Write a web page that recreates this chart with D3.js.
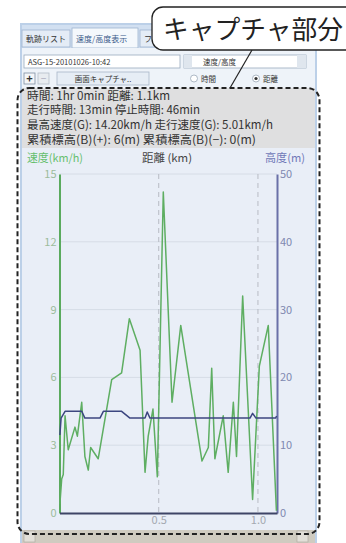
<!DOCTYPE html>
<html lang="ja">
<head>
<meta charset="utf-8">
<title>キャプチャ部分</title>
<style>
  html, body { margin: 0; padding: 0; background: #fff; }
  svg { display: block; }
  text { font-family: "Noto Sans CJK JP", "Noto Sans", sans-serif; }
</style>
</head>
<body>
<svg width="346" height="543"></svg>
<script src="https://d3js.org/d3.v7.min.js"></script>
<script>

// speed trace (distance km -> km/h)
var distKm   = [0.002, 0.011, 0.019, 0.028, 0.044, 0.078, 0.090, 0.112, 0.128, 0.145, 0.157, 0.195,
                0.263, 0.313, 0.352, 0.406, 0.431, 0.447, 0.471, 0.493, 0.523, 0.567, 0.611, 0.718,
                0.750, 0.767, 0.783, 0.825, 0.850, 0.876, 0.892, 0.923, 0.973, 1.007, 1.052, 1.093];
var speedKmh = [0.4, 1.5, 1.7, 4.3, 2.8, 3.8, 3.4, 4.9, 2.5, 1.9, 2.9, 2.4,
                5.9, 6.2, 8.6, 7.2, 1.8, 3.4, 4.6, 1.6, 14.2, 4.9, 8.3, 2.3,
                2.9, 6.4, 2.4, 4.3, 1.8, 4.9, 2.5, 9.6, 0.6, 6.5, 8.3, 0.1];

// altitude trace (distance km -> m)
var altDist = [0.002, 0.008, 0.028, 0.112, 0.128, 0.204, 0.221, 0.313, 0.355, 0.431, 0.442, 0.456,
               0.960, 0.973, 0.990, 1.089, 1.094];
var altM    = [11.5, 14.0, 15.0, 15.0, 14.0, 14.0, 15.0, 15.0, 14.0, 14.0, 14.9, 14.0,
               14.0, 14.7, 14.0, 14.0, 14.3];

var speedTicks = [0, 3, 6, 9, 12, 15];
var altTicks   = [0, 10, 20, 30, 40, 50];
var distTicks  = [0.5, 1.0];

var infoLines = [
  "時間: 1hr 0min  距離: 1.1km",
  "走行時間: 13min  停止時間: 46min",
  "最高速度(G): 14.20km/h  走行速度(G): 5.01km/h",
  "累積標高(B)(+): 6(m)  累積標高(B)(−): 0(m)"
];
var infoWidths = [143, 173, 246, 229];

var svg = d3.select("svg");

// ---- window chrome ----
svg.append("rect").attr("x", 20).attr("y", 23).attr("width", 297).attr("height", 520)
    .attr("fill", "#bcd0e8");
svg.append("rect").attr("x", 22).attr("y", 25).attr("width", 293).attr("height", 23)
    .attr("fill", "#d2e0f1");

// tabs (third tab is hidden behind the callout, only its first glyph shows)
var tabs = [["軌跡リスト", 22, 48, false], ["速度/高度表示", 72, 66, true], ["フ", 140, 40, false]];
tabs.forEach(function(t) {
  svg.append("rect").attr("x", t[1]).attr("y", t[3] ? 28 : 30).attr("width", t[2])
      .attr("height", t[3] ? 20 : 17)
      .attr("fill", t[3] ? "#f4f8fc" : "#e4ecf6").attr("stroke", "#9fb5d0").attr("stroke-width", 0.8);
  svg.append("text").attr("x", t[1] + 4).attr("y", 41.5).attr("font-size", 8)
      .attr("fill", t[3] ? "#3a5a8a" : "#333").text(t[0]);
});

// panel body
svg.append("rect").attr("x", 22).attr("y", 48).attr("width", 293).attr("height", 40)
    .attr("fill", "#eef3f9");
// file box
svg.append("rect").attr("x", 24).attr("y", 55).attr("width", 156).attr("height", 13)
    .attr("fill", "#fff").attr("stroke", "#9aaabf").attr("stroke-width", 0.8);
svg.append("text").attr("x", 28).attr("y", 64.5).attr("font-size", 7.5).attr("fill", "#333")
    .text("ASG-15-20101026-10:42");
// dropdown
svg.append("rect").attr("x", 184).attr("y", 55).attr("width", 122).attr("height", 13)
    .attr("fill", "#fff").attr("stroke", "#9aaabf").attr("stroke-width", 0.8);
svg.append("rect").attr("x", 184).attr("y", 55).attr("width", 8).attr("height", 13)
    .attr("fill", "#dfe6ee");
svg.append("rect").attr("x", 297).attr("y", 55).attr("width", 9).attr("height", 13)
    .attr("fill", "#dfe6ee");
svg.append("text").attr("x", 203).attr("y", 64.5).attr("font-size", 7.5).attr("fill", "#333")
    .text("速度/高度");

// + - buttons and capture button
svg.append("rect").attr("x", 24).attr("y", 73).attr("width", 11).attr("height", 11)
    .attr("fill", "#f4f6f8").attr("stroke", "#7f8fa3").attr("stroke-width", 0.8);
svg.append("text").attr("x", 29.5).attr("y", 82.5).attr("font-size", 11).attr("font-weight", "bold")
    .attr("text-anchor", "middle").attr("fill", "#333").text("+");
svg.append("rect").attr("x", 38).attr("y", 73).attr("width", 11).attr("height", 11)
    .attr("fill", "#e8ecf0").attr("stroke", "#b3bdc8").attr("stroke-width", 0.8);
svg.append("text").attr("x", 43.5).attr("y", 82).attr("font-size", 10)
    .attr("text-anchor", "middle").attr("fill", "#aab").text("−");
svg.append("rect").attr("x", 57).attr("y", 72).attr("width", 92).attr("height", 13)
    .attr("fill", "#e6edf5").attr("stroke", "#a8b6c8").attr("stroke-width", 0.8);
svg.append("text").attr("x", 103).attr("y", 81.5).attr("font-size", 7.5)
    .attr("text-anchor", "middle").attr("fill", "#333").text("画面キャプチャ..");

// radios
[["時間", 194, false], ["距離", 256, true]].forEach(function(r) {
  svg.append("circle").attr("cx", r[1]).attr("cy", 78.5).attr("r", 3.5)
      .attr("fill", "#fff").attr("stroke", "#9aa8b8").attr("stroke-width", 0.8);
  if (r[2]) svg.append("circle").attr("cx", r[1]).attr("cy", 78.5).attr("r", 1.6).attr("fill", "#333");
  svg.append("text").attr("x", r[1] + 7).attr("y", 81.5).attr("font-size", 7.5)
      .attr("fill", "#333").text(r[0]);
});

// info area
svg.append("rect").attr("x", 22).attr("y", 88).attr("width", 293).attr("height", 60)
    .attr("fill", "#dfdfe0");
infoLines.forEach(function(s, i) {
  svg.append("text").attr("x", 27).attr("y", 99.5 + i * 14.8).attr("font-size", 11.5)
      .attr("fill", "#333").attr("textLength", infoWidths[i]).attr("lengthAdjust", "spacingAndGlyphs")
      .text(s);
});

// chart background
svg.append("rect").attr("x", 22).attr("y", 148).attr("width", 293).attr("height", 382)
    .attr("fill", "#e9eef7");

// ---- chart ----
var x = d3.scaleLinear().domain([0, 1.096]).range([59.5, 277]);
var ySpeed = d3.scaleLinear().domain([0, 15]).range([513, 174]);
var yAlt = d3.scaleLinear().domain([0, 50]).range([513, 174]);

// header labels
svg.append("text").attr("x", 27).attr("y", 162).attr("font-size", 11).attr("fill", "#66bf6e")
    .attr("textLength", 56).attr("lengthAdjust", "spacingAndGlyphs").text("速度(km/h)");
svg.append("text").attr("x", 142).attr("y", 162).attr("font-size", 11).attr("fill", "#444")
    .attr("textLength", 50).attr("lengthAdjust", "spacingAndGlyphs").text("距離 (km)");
svg.append("text").attr("x", 265).attr("y", 162).attr("font-size", 11).attr("fill", "#7078b8")
    .attr("textLength", 40).attr("lengthAdjust", "spacingAndGlyphs").text("高度(m)");

// gridlines
svg.append("g").selectAll("line").data(speedTicks.filter(function(d) { return d > 0; }))
  .join("line")
    .attr("x1", x(0)).attr("x2", x.range()[1])
    .attr("y1", function(d) { return ySpeed(d); }).attr("y2", function(d) { return ySpeed(d); })
    .attr("stroke", "#d6dce6").attr("stroke-width", 1);
svg.append("g").selectAll("line").data(distTicks)
  .join("line")
    .attr("x1", function(d) { return x(d); }).attr("x2", function(d) { return x(d); })
    .attr("y1", ySpeed(15)).attr("y2", ySpeed(0))
    .attr("stroke", "#b8bcc4").attr("stroke-width", 1).attr("stroke-dasharray", "5,4");

// axes
var gL = svg.append("g").attr("transform", "translate(" + x(0) + ",0)")
    .call(d3.axisLeft(ySpeed).tickValues(speedTicks).tickSize(0).tickPadding(3));
gL.select(".domain").attr("stroke", "#5aaa5e").attr("stroke-width", 2);
gL.selectAll("text").attr("fill", "#9cbc9c").attr("font-size", 11)
    .attr("font-family", "'DejaVu Sans Condensed', sans-serif");

var gR = svg.append("g").attr("transform", "translate(" + x.range()[1] + ",0)")
    .call(d3.axisRight(yAlt).tickValues(altTicks).tickSize(0).tickPadding(3));
gR.select(".domain").attr("stroke", "#6a70a8").attr("stroke-width", 2);
gR.selectAll("text").attr("fill", "#8088b0").attr("font-size", 11)
    .attr("font-family", "'DejaVu Sans Condensed', sans-serif");

var gB = svg.append("g").attr("transform", "translate(0," + ySpeed(0) + ")")
    .call(d3.axisBottom(x).tickValues(distTicks).tickFormat(d3.format(".1f")).tickSize(0).tickPadding(3));
gB.select(".domain").attr("stroke", "#3e4466").attr("stroke-width", 2);
gB.selectAll("text").attr("fill", "#a4a8b0").attr("font-size", 11)
    .attr("font-family", "'DejaVu Sans Condensed', sans-serif");

// series
var speedLine = d3.line()
    .x(function(d, i) { return x(distKm[i]); })
    .y(function(d) { return ySpeed(d); });
svg.append("path").datum(speedKmh).attr("d", speedLine)
    .attr("fill", "none").attr("stroke", "#5eae62").attr("stroke-width", 1.5)
    .attr("stroke-linejoin", "round");

var altLine = d3.line()
    .x(function(d, i) { return x(altDist[i]); })
    .y(function(d) { return yAlt(d); });
svg.append("path").datum(altM).attr("d", altLine)
    .attr("fill", "none").attr("stroke", "#3c4680").attr("stroke-width", 1.5)
    .attr("stroke-linejoin", "round");

// bottom scrollbar
svg.append("rect").attr("x", 22).attr("y", 530).attr("width", 293).attr("height", 13)
    .attr("fill", "#cfcbc0");
svg.append("rect").attr("x", 24).attr("y", 531).attr("width", 11).attr("height", 11)
    .attr("fill", "#e2dfd8").attr("stroke", "#aaa69c").attr("stroke-width", 0.6);
svg.append("rect").attr("x", 297).attr("y", 531).attr("width", 11).attr("height", 11)
    .attr("fill", "#e2dfd8").attr("stroke", "#aaa69c").attr("stroke-width", 0.6);

// ---- capture outline + callout ----
svg.append("rect").attr("x", 17.5).attr("y", 88).attr("width", 302).attr("height", 446)
    .attr("rx", 12).attr("fill", "none").attr("stroke", "#222")
    .attr("stroke-width", 2).attr("stroke-dasharray", "5,3");

svg.append("line").attr("x1", 252).attr("y1", 50).attr("x2", 230).attr("y2", 88)
    .attr("stroke", "#222").attr("stroke-width", 1.2);

svg.append("rect").attr("x", 152).attr("y", 7).attr("width", 210).attr("height", 43)
    .attr("rx", 11).attr("fill", "#fff").attr("stroke", "#222").attr("stroke-width", 1.3);
svg.append("text").attr("x", 163).attr("y", 39).attr("font-size", 26).attr("fill", "#222")
    .attr("textLength", 180).attr("lengthAdjust", "spacingAndGlyphs").text("キャプチャ部分");

</script>
</body>
</html>
